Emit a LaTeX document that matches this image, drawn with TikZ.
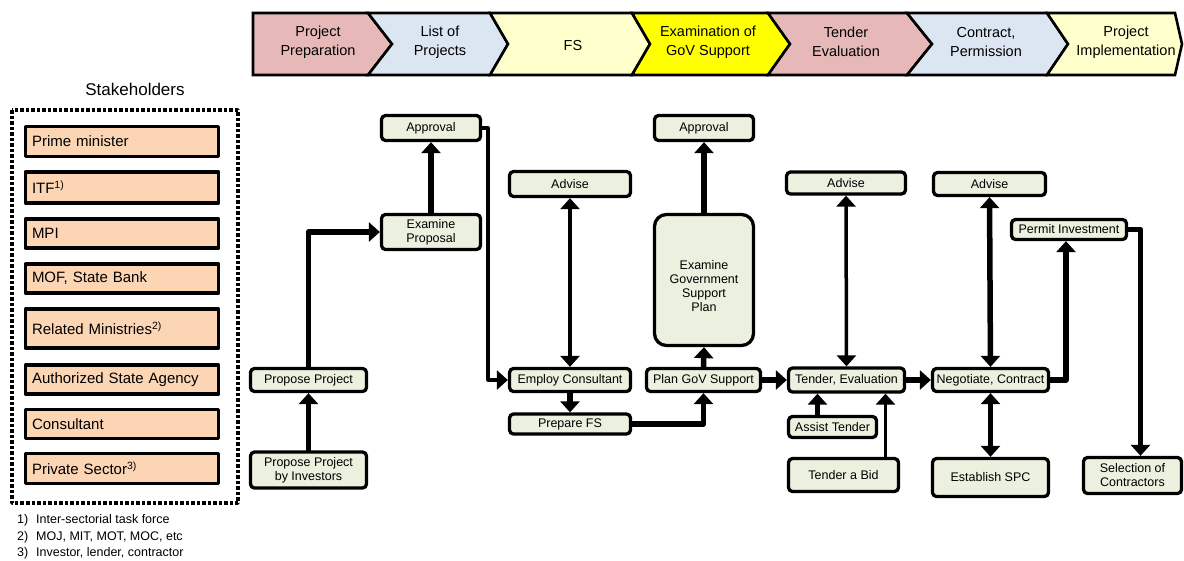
\documentclass[tikz,border=0pt]{standalone}
\usepackage{fontspec}
\setmainfont{Liberation Sans}
\usepackage{tikz}
\usetikzlibrary{arrows.meta,positioning,calc}
\definecolor{phpink}{HTML}{E6B9B8}
\definecolor{phblue}{HTML}{DCE6F2}
\definecolor{phyell}{HTML}{FFFFCC}
\definecolor{phgold}{HTML}{FFFF00}
\definecolor{stkfill}{HTML}{FCD5B5}
\definecolor{procfill}{HTML}{EBF1DE}
\tikzset{
  phase/.style={draw=black,line width=2.6pt,line join=miter},
  phasetext/.style={align=center,font=\fontsize{14.5}{19}\selectfont},
  stakebox/.style={draw=black,fill=stkfill,line width=3.3pt,text width=180pt,align=left,inner xsep=6.5pt,inner ysep=0pt,font=\fontsize{15}{17}\selectfont},
  proc/.style={draw=black,fill=procfill,line width=3.3pt,rounded corners=4pt,align=center,inner sep=0pt,font=\fontsize{12.5}{14}\selectfont},
  flow/.style={line width=5.5pt},
  flowthin/.style={line width=3.5pt},
  note/.style={anchor=west,inner sep=0pt,font=\fontsize{12.5}{14}\selectfont}
}
\begin{document}
\begin{tikzpicture}[line cap=round,line join=round,>={Triangle[length=11pt,width=19pt]},x=1pt,y=-1pt]
  \useasboundingbox (0,0) rectangle (1184,560);
  % phases
  \draw [phase,fill=phpink] (253,13) -- (368,13) -- (392,44) -- (368,75) -- (253,75) -- cycle;
  \draw [phase,fill=phblue] (368,13) -- (490,13) -- (508,44) -- (490,75) -- (368,75) -- (392,44) -- cycle;
  \draw [phase,fill=phyell] (490,13) -- (632,13) -- (650,44) -- (632,75) -- (490,75) -- (508,44) -- cycle;
  \draw [phase,fill=phgold] (632,13) -- (768,13) -- (790,44) -- (768,75) -- (632,75) -- (650,44) -- cycle;
  \draw [phase,fill=phpink] (768,13) -- (907,13) -- (932,44) -- (907,75) -- (768,75) -- (790,44) -- cycle;
  \draw [phase,fill=phblue] (907,13) -- (1047,13) -- (1068,44) -- (1047,75) -- (907,75) -- (932,44) -- cycle;
  \draw [phase,fill=phyell] (1047,13) -- (1175,13) -- (1182,44) -- (1175,75) -- (1047,75) -- (1068,44) -- cycle;
  \node [phasetext] (ph1) at (318,42) {Project\\Preparation};
  \node [phasetext] (ph2) at (440,42) {List of\\Projects};
  \node [phasetext] (ph3) at (573,46) {FS};
  \node [phasetext] (ph4) at (708,42) {Examination of\\GoV Support};
  \node [phasetext] (ph5) at (846,42) {Tender\\Evaluation};
  \node [phasetext] (ph6) at (986,42) {Contract,\\Permission};
  \node [phasetext] (ph7) at (1126,42) {Project\\Implementation};
  % stakeholders
  \node [font=\fontsize{17}{19}\selectfont] (stk) at (135,89) {Stakeholders};
  \draw [line width=3.5pt,line cap=butt,dash pattern=on 3.5pt off 2pt] (12,110) rectangle (238,503);
  \node [stakebox,minimum height=30pt] (pm) at (122,141.5) {Prime minister};
  \node [stakebox,minimum height=31pt] (itf) at (122,187.5) {ITF\textsuperscript{1)}};
  \node [stakebox,minimum height=29pt] (mpi) at (122,233.5) {MPI};
  \node [stakebox,minimum height=29pt] (mof) at (122,278.5) {MOF, State Bank};
  \node [stakebox,minimum height=39pt] (relm) at (122,328.5) {Related Ministries\textsuperscript{2)}};
  \node [stakebox,minimum height=29pt] (asa) at (122,379.5) {Authorized State Agency};
  \node [stakebox,minimum height=29pt] (cons) at (122,424) {Consultant};
  \node [stakebox,minimum height=30pt] (priv) at (122,468.5) {Private Sector\textsuperscript{3)}};
  \node [note] (fn1) at (17,520) {\makebox[19pt][l]{1)}Inter-sectorial task force};
  \node [note] (fn2) at (17,537) {\makebox[19pt][l]{2)}MOJ, MIT, MOT, MOC, etc};
  \node [note] (fn3) at (17,553) {\makebox[19pt][l]{3)}Investor, lender, contractor};
  % process
  \node [proc,minimum width=116pt,minimum height=23pt] (pp) at (308.5,380) {Propose Project};
  \node [proc,minimum width=116pt,minimum height=36pt] (ppi) at (308.5,470) {Propose Project\\by Investors};
  \node [proc,minimum width=99pt,minimum height=35pt] (exprop) at (431,232) {Examine\\Proposal};
  \node [proc,minimum width=99pt,minimum height=25pt] (apprA) at (431,128) {Approval};
  \node [proc,minimum width=121pt,minimum height=25pt] (advA) at (570,184) {Advise};
  \node [proc,minimum width=121pt,minimum height=23pt] (empc) at (570,380) {Employ Consultant};
  \node [proc,minimum width=121pt,minimum height=20pt] (prepfs) at (570,424) {Prepare FS};
  \node [proc,minimum width=99pt,minimum height=25pt] (apprB) at (704,128) {Approval};
  \node [proc,minimum width=99pt,minimum height=131pt,rounded corners=12pt] (exgov) at (704,280) {\rule{0pt}{21pt}Examine\\Government\\Support\\Plan};
  \node [proc,minimum width=114pt,minimum height=23pt] (plangov) at (703.5,380) {Plan GoV Support};
  \node [proc,minimum width=119pt,minimum height=22pt] (advB) at (846,183) {Advise};
  \node [proc,minimum width=116pt,minimum height=24pt] (tendev) at (846.5,380) {Tender, Evaluation};
  \node [proc,minimum width=88pt,minimum height=21pt] (astend) at (832.5,427) {Assist Tender};
  \node [proc,minimum width=110pt,minimum height=33pt] (bid) at (843.5,475) {Tender a Bid};
  \node [proc,minimum width=112pt,minimum height=23pt] (advC) at (989.5,184) {Advise};
  \node [proc,minimum width=116pt,minimum height=23pt] (negc) at (990.5,380) {Negotiate, Contract};
  \node [proc,minimum width=116pt,minimum height=38pt] (spc) at (990.5,477.5) {Establish SPC};
  \node [proc,minimum width=115pt,minimum height=20pt] (permit) at (1069,229.5) {Permit Investment};
  \node [proc,minimum width=98pt,minimum height=36pt] (selc) at (1132.5,475.5) {Selection of\\Contractors};
  % connectors
  \draw [flow,->] (ppi.north) -- (pp.south);
  \draw [flow,->] (pp.north) |- (exprop.west);
  \draw [flow,->] (exprop.north) -- (apprA.south);
  \draw [flowthin,->] (apprA.east) -- ++(6,0) |- (empc.west);
  \draw [flowthin,<->] (advA.south) -- (empc.north);
  \draw [flow,->] (empc.south) -- (prepfs.north);
  \draw [flow,->] (prepfs.east) -| (plangov.south);
  \draw [flow,->] (plangov.north) -- (exgov.south);
  \draw [flow,->] (exgov.north) -- (apprB.south);
  \draw [flow,->] (plangov.east) -- (tendev.west);
  \draw [flowthin,<->] (advB.south) -- (tendev.north);
  \draw [flow,->] ([xshift=-15pt]astend.north) -- ([xshift=-15pt]astend.north |- tendev.south);
  \draw [flowthin,->] ([xshift=42pt]bid.north) -- ([xshift=42pt]bid.north |- tendev.south);
  \draw [flow,->] (tendev.east) -- (negc.west);
  \draw [flow,<->] (advC.south) -- (negc.north);
  \draw [flow,<->] (negc.south) -- (spc.north);
  \draw [flow,->] (negc.east) -| ([xshift=-3pt]permit.south);
  \draw [flow,->] (permit.east) -| ([xshift=8pt]selc.north);
\end{tikzpicture}
\end{document}
